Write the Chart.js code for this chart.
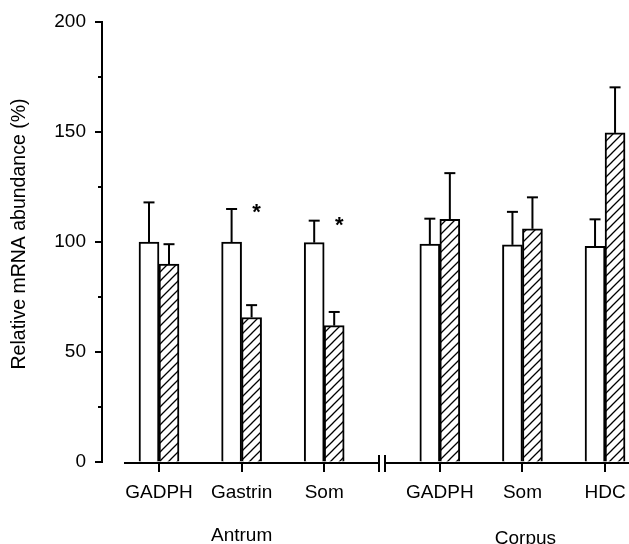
<!DOCTYPE html>
<html>
<head>
<meta charset="utf-8">
<script src="https://cdn.jsdelivr.net/npm/chart.js@4"></script>
<style>
  html, body { margin: 0; padding: 0; background: #fff; }
  #wrap { width: 629px; height: 544px; }
</style>
</head>
<body>
<div id="wrap"><canvas id="chart" width="629" height="544"></canvas></div>
<script>
// Categories and groups
const categories = ['GADPH', 'Gastrin', 'Som', 'GADPH', 'Som', 'HDC'];
const groups = ['Antrum', 'Corpus'];
const groupOf = [0, 0, 0, 1, 1, 1];
// place along the x axis (wider gap at the axis break)
const xPos = [1, 2, 3, 4.4, 5.4, 6.4];

// Open bars (control) and hatched bars: mean and top of error bar
const controlValues = [100, 100, 99.7, 99, 98.7, 98];
const controlErrors = [118, 115, 109.7, 110.6, 113.7, 110.3];
const treatedValues = [90, 65.7, 62, 110.3, 106, 149.6];
const treatedErrors = [99, 71.3, 68.2, 131.3, 120.3, 170.3];
// level of the * marks over the hatched bars
const sigLevels = [null, 115, 109, null, null, null];

const yTicks = [0, 50, 100, 150, 200];
const yMinorTicks = [25, 75, 125, 175];
const yTitle = 'Relative mRNA abundance (%)';

const FONT = "'Liberation Sans', Arial, Helvetica, sans-serif";

const canvas = document.getElementById('chart');
const mainCtx = canvas.getContext('2d');

function makeHatch() {
    const c = document.createElement('canvas');
    c.width = 9;
    c.height = 9;
    const g = c.getContext('2d');
    g.fillStyle = '#fff';
    g.fillRect(0, 0, 9, 9);
    g.strokeStyle = '#000';
    g.lineWidth = 1.3;
    g.beginPath();
    g.moveTo(-1, 10); g.lineTo(10, -1);
    g.moveTo(-1, 1); g.lineTo(1, -1);
    g.moveTo(8, 10); g.lineTo(10, 8);
    g.stroke();
    return mainCtx.createPattern(c, 'repeat');
}

function line(ctx, x1, y1, x2, y2) {
    ctx.beginPath();
    ctx.moveTo(x1, y1);
    ctx.lineTo(x2, y2);
    ctx.stroke();
}

const errorBars = {
    id: 'errorBars',
    afterDatasetsDraw(chart) {
        const ctx = chart.ctx;
        const y = chart.scales.y;
        ctx.save();
        ctx.strokeStyle = '#000';
        ctx.lineWidth = 2;
        chart.data.datasets.forEach((ds, d) => {
            const meta = chart.getDatasetMeta(d);
            ds.errors.forEach((err, i) => {
                const bar = meta.data[i];
                const top = y.getPixelForValue(err);
                line(ctx, bar.x, bar.y, bar.x, top);
                line(ctx, bar.x - 5.5, top, bar.x + 5.5, top);
            });
        });
        ctx.restore();
    }
};

const decorations = {
    id: 'decorations',
    afterDraw(chart) {
        const ctx = chart.ctx;
        const { x, y } = chart.scales;
        const area = chart.chartArea;
        ctx.save();
        ctx.strokeStyle = '#000';
        ctx.lineWidth = 2;

        // y tick marks
        yTicks.forEach(v => {
            const py = Math.round(y.getPixelForValue(v));
            line(ctx, area.left - 7, py, area.left, py);
        });
        yMinorTicks.forEach(v => {
            const py = Math.round(y.getPixelForValue(v));
            line(ctx, area.left - 4, py, area.left, py);
        });

        // x baseline with break, and category tick marks
        const y0 = Math.round(y.getPixelForValue(0)) + 1;
        const start = x.getPixelForValue(xPos[0]) - 35;
        const brk = x.getPixelForValue((xPos[2] + xPos[3]) / 2);
        line(ctx, start, y0, brk - 3, y0);
        line(ctx, brk + 3, y0, area.right, y0);
        line(ctx, brk - 3, y0 - 8, brk - 3, y0 + 9);
        line(ctx, brk + 3, y0 - 8, brk + 3, y0 + 9);
        xPos.forEach(v => {
            const px = Math.round(x.getPixelForValue(v));
            line(ctx, px, y0, px, y0 + 9);
        });

        // * marks
        const meta = chart.getDatasetMeta(1);
        ctx.fillStyle = '#000';
        ctx.font = 'bold 22px ' + FONT;
        ctx.textAlign = 'center';
        ctx.textBaseline = 'alphabetic';
        sigLevels.forEach((lvl, i) => {
            if (lvl === null) return;
            const bar = meta.data[i];
            ctx.fillText('*', bar.x + 5, y.getPixelForValue(lvl) + 10);
        });

        // group labels
        ctx.font = '19px ' + FONT;
        groups.forEach((g, gi) => {
            const members = xPos.filter((_, i) => groupOf[i] === gi);
            const mid = members.reduce((a, b) => a + b, 0) / members.length;
            ctx.fillText(g, x.getPixelForValue(mid) + (gi === 0 ? 0 : 3), gi === 0 ? 541 : 544);
        });

        // y axis title
        ctx.translate(20, 234);
        ctx.rotate(-Math.PI / 2);
        ctx.font = '19.5px ' + FONT;
        ctx.textBaseline = 'middle';
        ctx.fillText(yTitle, 0, 0);
        ctx.restore();
    }
};

new Chart(canvas, {
    type: 'bar',
    data: {
        datasets: [
            {
                label: 'Control',
                data: xPos.map((p, i) => ({ x: p, y: controlValues[i] })),
                errors: controlErrors,
                backgroundColor: '#fff',
                borderColor: '#000',
                borderWidth: 2,
                barThickness: 20
            },
            {
                label: 'Treated',
                data: xPos.map((p, i) => ({ x: p, y: treatedValues[i] })),
                errors: treatedErrors,
                backgroundColor: makeHatch(),
                borderColor: '#000',
                borderWidth: 2,
                barThickness: 20
            }
        ]
    },
    options: {
        responsive: false,
        animation: false,
        layout: { padding: { top: 22, right: 0, bottom: 0, left: 0 } },
        plugins: {
            legend: { display: false },
            tooltip: { enabled: false }
        },
        scales: {
            x: {
                type: 'linear',
                min: 0.31,
                max: 6.69,
                offset: false,
                grid: {
                    offset: false,
                    drawOnChartArea: false,
                    drawTicks: true,
                    tickLength: 19,
                    tickColor: 'rgba(0,0,0,0)'
                },
                border: { display: false },
                afterBuildTicks: scale => {
                    scale.ticks = xPos.map(v => ({ value: v }));
                },
                afterFit: scale => { scale.height = 82; },
                ticks: {
                    autoSkip: false,
                    maxRotation: 0,
                    padding: 0,
                    color: '#000',
                    font: { family: FONT, size: 19 },
                    callback: (value, index) => categories[index]
                }
            },
            y: {
                min: 0,
                max: 200,
                grid: {
                    drawOnChartArea: false,
                    drawTicks: true,
                    tickLength: 16,
                    tickColor: 'rgba(0,0,0,0)'
                },
                border: { display: true, color: '#000', width: 2 },
                afterBuildTicks: scale => {
                    scale.ticks = yTicks.map(v => ({ value: v }));
                },
                afterFit: scale => { scale.width = 102; },
                ticks: {
                    padding: 0,
                    color: '#000',
                    font: { family: FONT, size: 19 }
                }
            }
        }
    },
    plugins: [errorBars, decorations]
});
</script>
</body>
</html>
